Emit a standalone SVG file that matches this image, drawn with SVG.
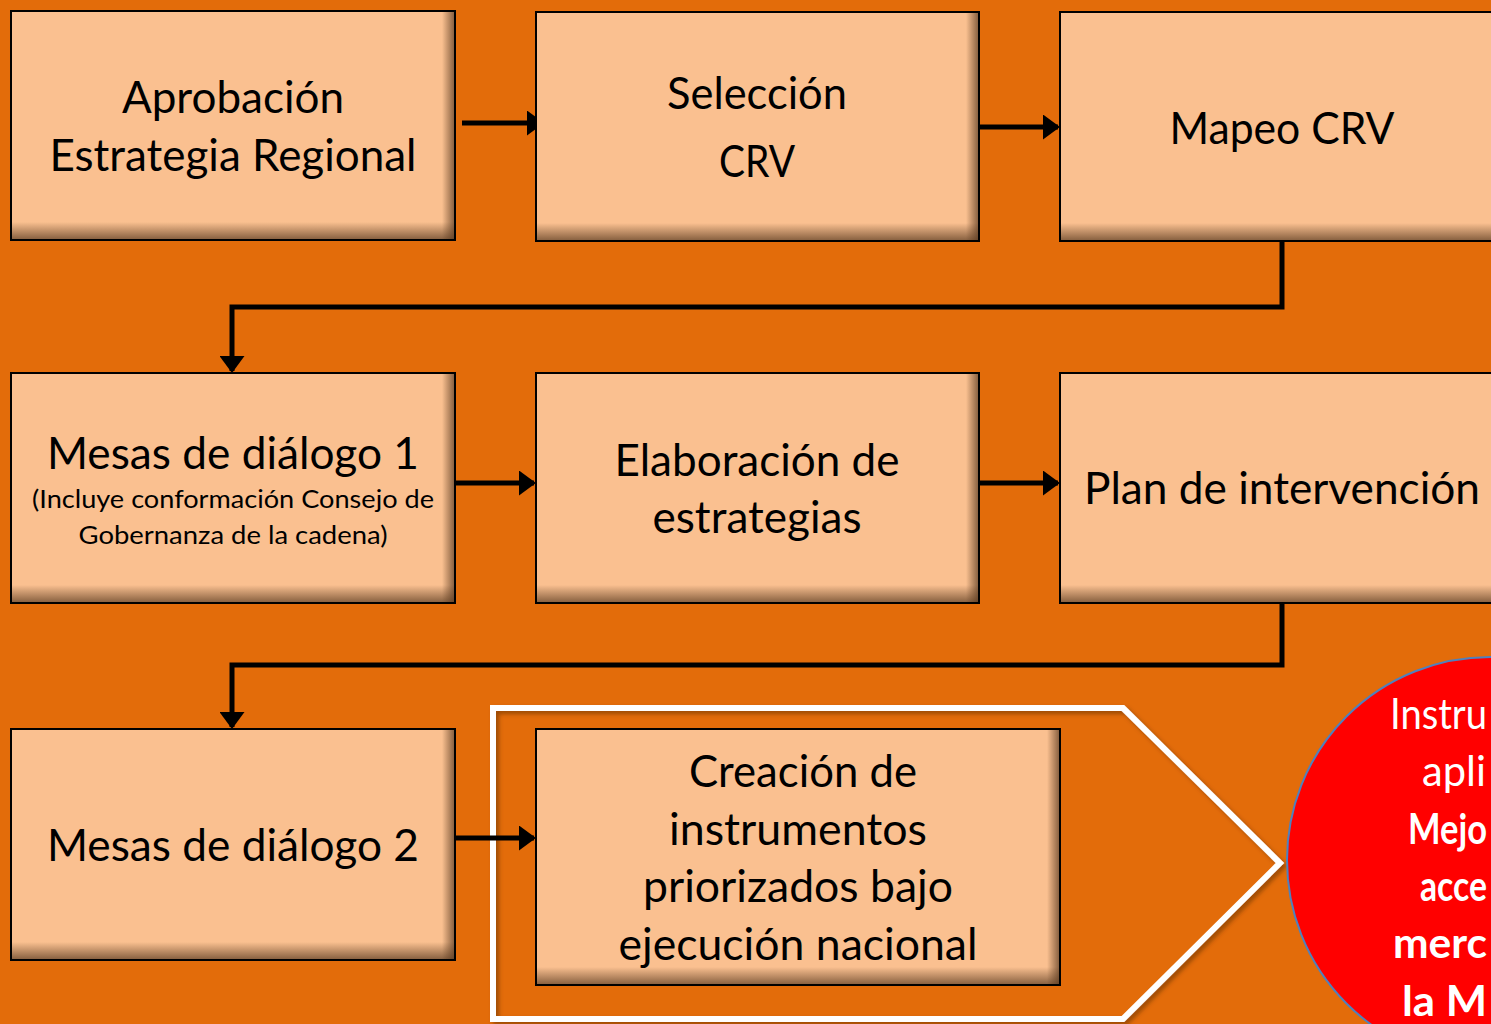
<svg xmlns="http://www.w3.org/2000/svg" width="1491" height="1024" viewBox="0 0 1491 1024">
<defs>
<style>
.box{fill:#FAC090;stroke:#000;stroke-width:2}
.t{font-family:Lato,"Open Sans",sans-serif;font-size:44px;fill:#000;text-anchor:middle}
.s{font-family:Lato,"Open Sans",sans-serif;font-size:25px;fill:#000;text-anchor:middle}
.w{font-family:Lato,"Open Sans",sans-serif;font-size:42px;fill:#fff}
.wb{font-family:Lato,"Open Sans",sans-serif;font-size:42px;fill:#fff;font-weight:bold}
.c{fill:none;stroke:#000;stroke-width:5}
</style>
<linearGradient id="gb" x1="0" y1="0" x2="0" y2="1"><stop offset="0" stop-color="#5a3a20" stop-opacity="0"/><stop offset="1" stop-color="#5a3a20" stop-opacity="0.7"/></linearGradient>
<linearGradient id="gr" x1="0" y1="0" x2="1" y2="0"><stop offset="0" stop-color="#5a3a20" stop-opacity="0"/><stop offset="1" stop-color="#5a3a20" stop-opacity="0.7"/></linearGradient>
<marker id="ah" markerWidth="3.4" markerHeight="5" refX="3" refY="2.5" orient="auto" markerUnits="strokeWidth"><path d="M0,0 L3.4,2.5 L0,5 z" fill="#000"/></marker>
<filter id="sh" x="-10%" y="-10%" width="120%" height="120%"><feDropShadow dx="3" dy="3" stdDeviation="2" flood-color="#6b3000" flood-opacity="0.6"/></filter>
<clipPath id="cc"><circle cx="1490" cy="860" r="203"/></clipPath>
</defs>
<rect width="1491" height="1024" fill="#E36C0A"/>
<g id="frame"><path d="M493,708 L1123,708 L1280,863 L1123,1019 L493,1019 Z" fill="none" stroke="#fff" stroke-width="6" filter="url(#sh)"/></g>
<g id="connectors">
<line class="c" x1="462" y1="123" x2="542" y2="123" marker-end="url(#ah)"/>
<line class="c" x1="977" y1="127" x2="1058" y2="127" marker-end="url(#ah)"/>
<path class="c" d="M1282,241 L1282,307 L232,307 L232,371" marker-end="url(#ah)"/>
<line class="c" x1="455" y1="483" x2="534" y2="483" marker-end="url(#ah)"/>
<line class="c" x1="977" y1="483" x2="1058" y2="483" marker-end="url(#ah)"/>
<path class="c" d="M1282,603 L1282,665 L232,665 L232,727" marker-end="url(#ah)"/>
<line class="c" x1="455" y1="838" x2="534" y2="838" marker-end="url(#ah)"/>
</g>
<g id="n1"><rect class="box" x="11" y="11" width="444" height="229"/><rect x="12" y="222" width="442" height="17" fill="url(#gb)"/><rect x="442" y="12" width="12" height="227" fill="url(#gr)"/>
<text class="t" x="233" y="113" textLength="222" lengthAdjust="spacingAndGlyphs">Aprobación</text><text class="t" x="233" y="171" textLength="367" lengthAdjust="spacingAndGlyphs">Estrategia Regional</text></g>
<g id="n2"><rect class="box" x="536" y="12" width="443" height="229"/><rect x="537" y="223" width="441" height="17" fill="url(#gb)"/><rect x="966" y="13" width="12" height="227" fill="url(#gr)"/>
<text class="t" x="757" y="109" textLength="180" lengthAdjust="spacingAndGlyphs">Selección</text><text class="t" x="757" y="177" textLength="76" lengthAdjust="spacingAndGlyphs">CRV</text></g>
<g id="n3"><rect class="box" x="1060" y="12" width="440" height="229"/><rect x="1061" y="223" width="440" height="17" fill="url(#gb)"/>
<text class="t" x="1282" y="144" textLength="225" lengthAdjust="spacingAndGlyphs">Mapeo CRV</text></g>
<g id="n4"><rect class="box" x="11" y="373" width="444" height="230"/><rect x="12" y="585" width="442" height="17" fill="url(#gb)"/><rect x="442" y="374" width="12" height="228" fill="url(#gr)"/>
<text class="t" x="233" y="469" textLength="372" lengthAdjust="spacingAndGlyphs">Mesas de diálogo 1</text>
<text class="s" x="233" y="508" textLength="402" lengthAdjust="spacingAndGlyphs">(Incluye conformación Consejo de</text>
<text class="s" x="233" y="544" textLength="309" lengthAdjust="spacingAndGlyphs">Gobernanza de la cadena)</text></g>
<g id="n5"><rect class="box" x="536" y="373" width="443" height="230"/><rect x="537" y="585" width="441" height="17" fill="url(#gb)"/><rect x="966" y="374" width="12" height="228" fill="url(#gr)"/>
<text class="t" x="757" y="476" textLength="285" lengthAdjust="spacingAndGlyphs">Elaboración de</text><text class="t" x="757" y="533" textLength="209" lengthAdjust="spacingAndGlyphs">estrategias</text></g>
<g id="n6"><rect class="box" x="1060" y="373" width="440" height="230"/><rect x="1061" y="585" width="440" height="17" fill="url(#gb)"/>
<text class="t" x="1282" y="504" textLength="396" lengthAdjust="spacingAndGlyphs">Plan de intervención</text></g>
<g id="n7"><rect class="box" x="11" y="729" width="444" height="231"/><rect x="12" y="942" width="442" height="17" fill="url(#gb)"/><rect x="442" y="730" width="12" height="229" fill="url(#gr)"/>
<text class="t" x="233" y="861" textLength="372" lengthAdjust="spacingAndGlyphs">Mesas de diálogo 2</text></g>
<g id="n8"><rect class="box" x="536" y="729" width="524" height="256"/><rect x="537" y="967" width="522" height="17" fill="url(#gb)"/><rect x="1047" y="730" width="12" height="254" fill="url(#gr)"/>
<text class="t" x="803" y="787" textLength="228" lengthAdjust="spacingAndGlyphs">Creación de</text>
<text class="t" x="798" y="845" textLength="258" lengthAdjust="spacingAndGlyphs">instrumentos</text>
<text class="t" x="798" y="902" textLength="310" lengthAdjust="spacingAndGlyphs">priorizados bajo</text>
<text class="t" x="798" y="960" textLength="359" lengthAdjust="spacingAndGlyphs">ejecución nacional</text></g>
<g id="n9"><circle cx="1490" cy="860" r="203" fill="#FF0000" stroke="#4F81BD" stroke-width="2"/>
<text class="w" x="1390" y="729" textLength="97" lengthAdjust="spacingAndGlyphs">Instru</text>
<text class="w" x="1422" y="786" textLength="64" lengthAdjust="spacingAndGlyphs">apli</text>
<text class="wb" x="1408" y="844" textLength="79" lengthAdjust="spacingAndGlyphs">Mejo</text>
<text class="wb" x="1420" y="901" textLength="67" lengthAdjust="spacingAndGlyphs">acce</text>
<text class="wb" x="1393" y="958" textLength="94" lengthAdjust="spacingAndGlyphs">merc</text>
<text class="wb" x="1402" y="1016" textLength="85" lengthAdjust="spacingAndGlyphs">la M</text>
</g>
</svg>
